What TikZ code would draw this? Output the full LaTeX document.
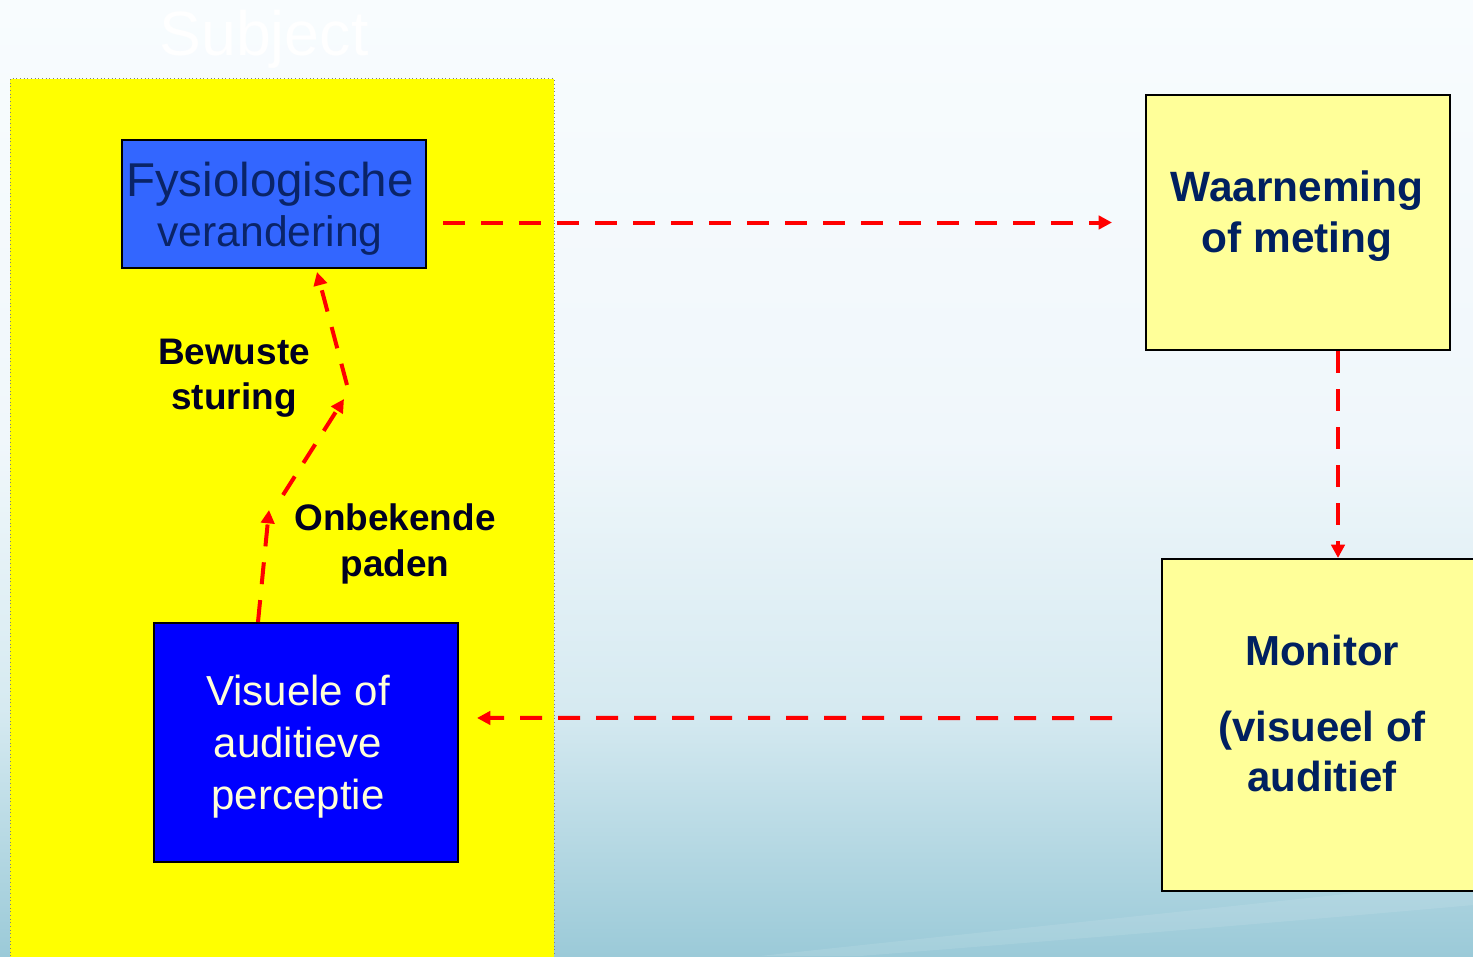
\documentclass[tikz,border=0pt]{standalone}
\usepackage{fontspec}
\setmainfont{Liberation Sans}
\usetikzlibrary{arrows.meta}
\definecolor{bgtop}{HTML}{F8FCFE}
\definecolor{bgup}{HTML}{F0F7FB}
\definecolor{bgmid}{HTML}{D6EAF1}
\definecolor{bgbot}{HTML}{9BCAD8}
\definecolor{subjyellow}{HTML}{FFFF00}
\definecolor{fysblue}{HTML}{3366FF}
\definecolor{visblue}{HTML}{0000FF}
\definecolor{paleyellow}{HTML}{FFFF99}
\definecolor{navy}{HTML}{002060}
\definecolor{fysnavy}{HTML}{0A2468}
\definecolor{labelnavy}{HTML}{000022}
\definecolor{cream}{HTML}{FFFFD8}
\definecolor{arrred}{HTML}{FF0000}
\pgfdeclareverticalshading{bgshade}{100bp}{color(0bp)=(bgbot); color(25bp)=(bgbot); color(38bp)=(bgmid); color(52bp)=(bgup); color(75bp)=(bgtop); color(100bp)=(bgtop)}
\tikzset{
  box/.style={draw=black, line width=1.5pt, inner sep=0pt, minimum width=228pt},
  arr/.style={draw=arrred, line width=3pt, dash pattern=on 16.5pt off 12pt, -{Triangle[length=10pt,width=10pt]}},
  lbl/.style={text=labelnavy, font=\fontsize{27.7}{34}\selectfont\bfseries, align=center, inner sep=0pt},
}
\begin{document}
\begin{tikzpicture}[x=0.75pt,y=-0.75pt]
\useasboundingbox (0,0) rectangle (1473,956);
\shade[shading=bgshade] (0,0) rectangle (1473,956);
% faint light swoosh at the bottom
\fill[white, opacity=0.1] (760,956) .. controls (1000,930) and (1250,905) .. (1473,880) -- (1473,905) .. controls (1250,925) and (1000,945) .. (860,956) -- cycle;
% title
\node[text=white, font=\fontsize{47}{56}\selectfont, inner sep=0pt] (title) at (264,39) {Subject};
% subject area
\fill[subjyellow] (10,79) rectangle (554,960);
\draw[gray, line width=0.75pt, dotted] (10,960) -- (10,79) -- (554,79) -- (554,960);
% boxes
\node[box, fill=fysblue, minimum height=96pt] (fys) at (274,204) {};
\node[text=fysnavy, align=center, inner sep=0pt] (fystext) at (270,209) {\fontsize{35.6}{37.5}\selectfont Fysiologische\\[6pt]\fontsize{32}{37.5}\selectfont verandering};
\node[box, fill=visblue, minimum height=179.25pt] (vis) at (306,742.5) {};
\node[text=cream, font=\fontsize{31.5}{39}\selectfont, align=center, inner sep=0pt] (vistext) at (298,747) {Visuele of\\auditieve\\perceptie};
\node[box, fill=paleyellow, minimum height=191.25pt] (waar) at (1298,222.5) {};
\node[text=navy, font=\fontsize{31.8}{38}\selectfont\bfseries, align=center, inner sep=0pt] (waartext) at (1297,216) {Waarneming\\of meting};
\node[box, fill=paleyellow, minimum width=238.5pt, minimum height=249pt] (mon) at (1321,725) {};
\node[text=navy, font=\fontsize{31.5}{37.5}\selectfont\bfseries, align=center, inner sep=0pt] (montext) at (1322,713.5) {Monitor\\[20pt](visueel of\\auditief};
% labels
\node[lbl] (bewust) at (234,378) {Bewuste\\sturing};
\node[lbl] (onbek) at (395,544) {Onbekende\\paden};
% connectors
\coordinate (p1) at (269,510);
\coordinate (p2) at (283,495);
\coordinate (p3) at (344,399);
\coordinate (p4) at (347,385);
\draw[arr] ([xshift=12pt]fys.east |- waar.west) -- ([xshift=-24.75pt]waar.west);
\draw[arr] ([xshift=30pt]waar.south) -- ([xshift=30pt]waar.south |- mon.north);
\draw[arr] ([xshift=-36.75pt,yshift=5.25pt]mon.west) -- ([xshift=13.5pt,yshift=18.4pt]vis.east);
\draw[arr] ([xshift=-36pt]vis.north) -- (p1);
\draw[arr] (p2) -- (p3);
\draw[arr] (p4) -- ([xshift=32.25pt,yshift=-2.25pt]fys.south);
\end{tikzpicture}
\end{document}
